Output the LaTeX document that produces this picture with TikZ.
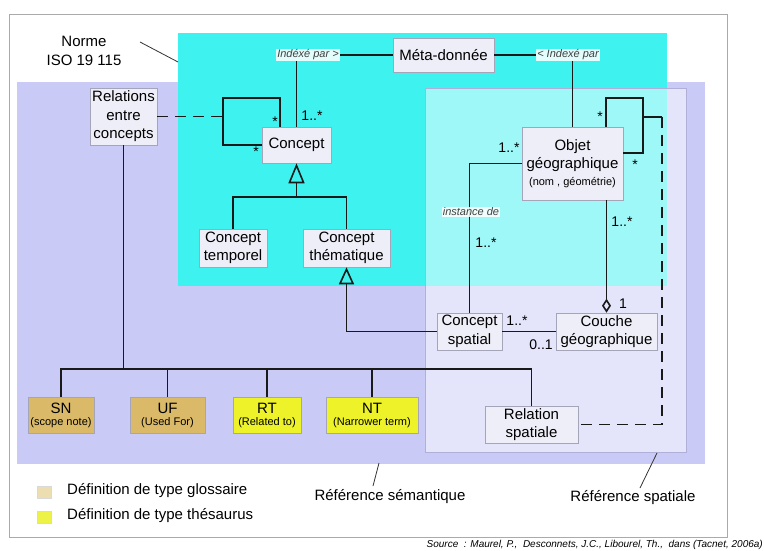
\documentclass[tikz,border=0pt]{standalone}
\usepackage{fontspec}
\setmainfont{Liberation Sans}
\usetikzlibrary{arrows.meta,calc}
\definecolor{cyanbg}{RGB}{62,242,240}
\definecolor{lavbg}{RGB}{202,202,246}
\definecolor{boxfill}{RGB}{238,238,248}
\definecolor{boxdraw}{RGB}{165,165,185}
\definecolor{spatdraw}{RGB}{175,175,215}
\definecolor{tanbox}{RGB}{218,186,104}
\definecolor{yelbox}{RGB}{238,242,40}
\definecolor{legtan}{RGB}{236,222,176}
\definecolor{legyel}{RGB}{236,242,70}
\definecolor{framegray}{RGB}{170,170,170}
\newcommand\fBig{\fontsize{15}{18.5}\selectfont}
\newcommand\fMid{\fontsize{14}{17}\selectfont}
\newcommand\fSmall{\fontsize{11}{13}\selectfont}
\newcommand\fTiny{\fontsize{10}{12}\selectfont}
\begin{document}
\begin{tikzpicture}[x=1pt,y=-1pt,
 umlbox/.style={draw=boxdraw,fill=boxfill,line width=0.6pt,align=center,inner sep=0pt,font=\fBig},
 defbox/.style={draw=boxdraw,line width=0.6pt,align=center,inner sep=0pt,minimum height=36pt},
 conn/.style={line width=1.7pt,black!90},
 dconn/.style={conn,dash pattern=on 11pt off 7pt},
 ilabel/.style={font=\fSmall\itshape,fill=white,fill opacity=0.85,text opacity=1,inner sep=1pt,text=black!75},
 mult/.style={font=\fMid,inner sep=0pt},
 plain/.style={font=\fBig,align=center,inner sep=0pt},
 leader/.style={line width=0.8pt,black!80},
 gen/.style={-{Triangle[open,length=20pt,width=16pt,line width=1.6pt]}},
 agg/.style={{Diamond[open,length=14pt,width=9pt,line width=1.6pt]}-},
]
\fill[white] (0,0) rectangle (764,551);
\useasboundingbox (0,0) rectangle (764,551);
% frames
\draw[framegray,line width=0.8pt,fill=white] (9,14) rectangle (727,537);
\fill[lavbg] (17,82) rectangle (705,464);
\fill[cyanbg] (178,33) rectangle (667,286);
\draw[spatdraw,line width=0.8pt,fill=white,fill opacity=0.5] (425,88) rectangle (686,452);

% UML nodes
\node[umlbox,minimum width=101pt,minimum height=34pt] (meta) at (443.5,55) {Méta-donnée};
\node[umlbox,minimum width=69pt,minimum height=36pt] (concept) at (296.5,145) {Concept};
\node[umlbox,minimum width=67pt,minimum height=57pt] (relations) at (123.5,116.5) {Relations\\entre\\concepts};
\node[umlbox,minimum width=68pt,minimum height=38pt] (ctemp) at (233,248) {Concept\\temporel};
\node[umlbox,minimum width=87pt,minimum height=38pt] (ctheme) at (346.5,248) {Concept\\thématique};
\node[umlbox,minimum width=101pt,minimum height=73pt] (objet) at (572.5,163.5) {Objet\\géographique\\[-2pt]{\fSmall (nom , géométrie)}};
\node[umlbox,minimum width=65pt,minimum height=37pt] (cspatial) at (469.5,331.5) {Concept\\spatial};
\node[umlbox,minimum width=101pt,minimum height=37pt] (couche) at (606.5,331.5) {Couche\\géographique};
\node[umlbox,minimum width=93pt,minimum height=37pt] (relsp) at (531.5,424.5) {Relation\\spatiale};

% definition boxes
\node[defbox,fill=tanbox,minimum width=66pt] (sn) at (61,415) {{\fBig SN}\\{\fSmall (scope note)}};
\node[defbox,fill=tanbox,minimum width=75pt] (uf) at (167.5,415) {{\fBig UF}\\{\fSmall (Used For)}};
\node[defbox,fill=yelbox,minimum width=68pt] (rt) at (267,415) {{\fBig RT}\\{\fSmall (Related to)}};
\node[defbox,fill=yelbox,minimum width=92pt] (nt) at (372,415) {{\fBig NT}\\{\fSmall (Narrower term)}};

% italic association labels
\node[ilabel] (ip1) at (308,55) {Indéxé par >};
\node[ilabel] (ip2) at (568,55) {< Indexé par};

% Concept <-> Méta-donnée <-> Objet
\draw[conn] (concept.north) -- (concept.north |- ip1.south);
\draw[conn] (ip1.east) -- (meta.west);
\draw[conn] (meta.east) -- (ip2.west);
\draw[conn] (objet.north) -- (objet.north |- ip2.south);

% Concept self loop
\coordinate (cl1) at (280,98);
\coordinate (cl2) at (223,98);
\draw[conn] (cl1 |- concept.north) -- (cl1) -- (cl2) |- (concept.west);
\draw[dconn] (relations.east) -- (relations.east -| cl2);
\node[mult] at (275,122) {*};
\node[mult] at (256,152) {*};
\node[mult] at (312,116) {1..*};

% generalisation Concept
\coordinate (gj) at (296.5,197);
\draw[conn,gen] (gj) -- (concept.south);
\draw[conn] (ctemp.north) |- (gj) -| (ctheme.north);

% Concept spatial -> Concept thematique
\draw[conn,-{Triangle[open,length=17pt,width=15pt,line width=1.6pt]}] (cspatial.west) -| (ctheme.south);

% Objet self loop
\coordinate (ol1) at (606,98);
\coordinate (ol2) at (643,98);
\coordinate (ol3) at (643,153);
\draw[conn] (ol1 |- objet.north) -- (ol1) -- (ol2) -- (ol3) -- (ol3 -| objet.east);
\node[mult] at (600,117) {*};
\node[mult] at (635,165) {*};
\coordinate (od) at (643,117);
\coordinate (oc) at (662,117);
\draw[conn] (od) -- (oc);
\draw[dconn] (oc) |- (relsp.east);

% Objet -> Concept spatial
\draw[conn] (objet.west) -| (cspatial.north);
\node[ilabel] (inst) at (471,212) {instance de};
\node[mult] at (509,148) {1..*};
\node[mult] at (486,243) {1..*};

% Objet -> Couche (aggregation)
\draw[conn,agg] (couche.north) -- (couche.north |- objet.south);
\node[mult] at (622,222) {1..*};
\node[mult] at (623,304) {1};

% Concept spatial -- Couche
\draw[conn] (cspatial.east) -- (couche.west);
\node[mult] at (517,321) {1..*};
\node[mult] at (541,345) {0..1};

% Relations bus
\coordinate (busy) at (0,369);
\draw[conn] (relations.south) -- (relations.south |- busy);
\draw[conn] (sn.north) |- (busy -| relsp.north) -- (relsp.north);
\draw[conn] (uf.north) -- (uf.north |- busy);
\draw[conn] (rt.north) -- (rt.north |- busy);
\draw[conn] (nt.north) -- (nt.north |- busy);

% ISO label
\node[plain] (norme) at (84,51) {Norme\\ISO 19 115};
\coordinate (isoA) at (140,42);
\coordinate (isoB) at (178,62);
\draw[leader] (isoA) -- (isoB);

% reference labels
\node[plain] (refsem) at (390,497) {Référence sémantique};
\coordinate (rsA) at (379,463);
\coordinate (rsB) at (373,486);
\draw[leader] (rsA) -- (rsB);
\node[plain] (refspa) at (633,498) {Référence spatiale};
\coordinate (rpA) at (657,453);
\coordinate (rpB) at (640,488);
\draw[leader] (rpA) -- (rpB);

% legend
\node[draw=black!15,fill=legtan,minimum width=14pt,minimum height=12pt,inner sep=0pt] (lg1) at (44.5,492) {};
\node[plain,anchor=west] (lt1) at (67,491) {Définition de type glossaire};
\node[draw=black!15,fill=legyel,minimum width=14pt,minimum height=12pt,inner sep=0pt] (lg2) at (44.5,517) {};
\node[plain,anchor=west] (lt2) at (67,516) {Définition de type thésaurus};

% source
\node[font=\fTiny\itshape,anchor=east,inner sep=0pt] (src) at (763,545) {Source~~: Maurel, P.,~ Desconnets, J.C., Libourel, Th.,~ dans (Tacnet, 2006a)};
\end{tikzpicture}
\end{document}
